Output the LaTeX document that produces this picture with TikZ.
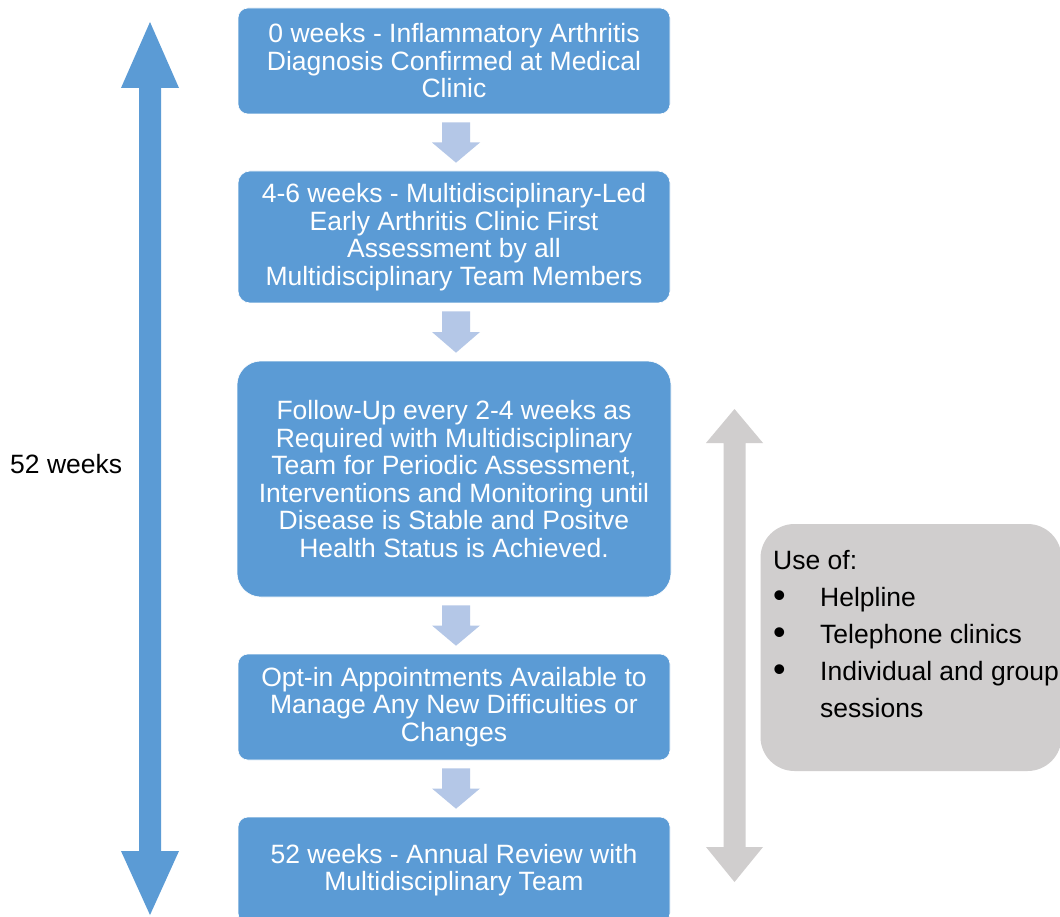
\documentclass[tikz,border=0pt]{standalone}
\usepackage{fontspec}
\usepackage{graphicx}
\setmainfont{Liberation Sans}
\usetikzlibrary{calc}
\definecolor{boxblue}{HTML}{5B9BD5}
\definecolor{lightarr}{HTML}{B4C7E7}
\definecolor{grayc}{HTML}{D0CECE}
\newcommand\mybul{\makebox[47pt][l]{\raisebox{-1pt}{\scalebox{1.35}{•}}}}
\tikzset{
  bluebox/.style={fill=boxblue, draw=white, line width=0.6pt, text=white, align=center,
    minimum width=432pt, inner sep=0pt, font=\fontsize{26.5}{27.5}\selectfont},
  sidetxt/.style={anchor=base west, inner sep=0pt, text=black, font=\fontsize{26.5}{32}\selectfont},
  graybox/.style={fill=grayc, rounded corners=34pt, inner sep=0pt},
}
\begin{document}
\begin{tikzpicture}[x=1pt,y=-1pt]
\clip (0,0) rectangle (1060,917);
\fill[white] (0,0) rectangle (1060,917);

% big blue double arrow
\coordinate (bt) at (150,22);
\coordinate (bb) at (150,915);
\fill[boxblue] (bt) -- ($(bt)+(29,66)$) -- ($(bt)+(11,66)$) -- ($(bb)+(11,-64)$) -- ($(bb)+(29,-64)$)
  -- (bb) -- ($(bb)+(-29,-64)$) -- ($(bb)+(-11,-64)$) -- ($(bt)+(-11,66)$) -- ($(bt)+(-29,66)$) -- cycle;
\node[anchor=base west, inner sep=0pt, font=\fontsize{26.5}{32}\selectfont] (lbl) at (10,473) {52 weeks};

% gray double arrow
\coordinate (gt) at (734.5,409);
\coordinate (gb) at (734.5,882);
\fill[grayc] (gt) -- ($(gt)+(28.5,34)$) -- ($(gt)+(11,34)$) -- ($(gb)+(11,-35)$) -- ($(gb)+(28.5,-35)$)
  -- (gb) -- ($(gb)+(-28.5,-35)$) -- ($(gb)+(-11,-35)$) -- ($(gt)+(-11,34)$) -- ($(gt)+(-28.5,34)$) -- cycle;

% gray side box
\node[graybox, minimum width=301pt, minimum height=247pt] (side) at (911,647.5) {};
\node[sidetxt] (s0) at (773,569) {Use of:};
\node[sidetxt] (s1) at (773,606) {\mybul Helpline};
\node[sidetxt] (s2) at (773,643) {\mybul Telephone clinics};
\node[sidetxt] (s3) at (773,680) {\mybul Individual and group};
\node[sidetxt] (s4) at (773,717) {\hspace*{47pt}sessions};

% blue boxes
\node[bluebox, minimum height=106pt, rounded corners=10pt] (b1) at (454,61)
  {0 weeks - Inflammatory Arthritis\\Diagnosis Confirmed at Medical\\Clinic};
\node[bluebox, minimum height=132pt, rounded corners=12pt] (b2) at (454,237)
  {4-6 weeks - Multidisciplinary-Led\\Early Arthritis Clinic First\\Assessment by all\\Multidisciplinary Team Members};
\node[bluebox, minimum width=434pt, minimum height=236pt, rounded corners=24pt] (b3) at (454,479)
  {Follow-Up every 2-4 weeks as\\Required with Multidisciplinary\\Team for Periodic Assessment,\\Interventions and Monitoring until\\Disease is Stable and Positve\\Health Status is Achieved.};
\node[bluebox, minimum height=106pt, rounded corners=10pt] (b4) at (454,707)
  {Opt-in Appointments Available to\\Manage Any New Difficulties or\\Changes};
\node[bluebox, minimum height=106pt, rounded corners=10pt] (b5) at (454,870)
  {52 weeks - Annual Review with\\Multidisciplinary Team};

% light block arrows between boxes
\foreach \a/\b in {b1/b2, b2/b3, b3/b4, b4/b5}{
  \fill[lightarr] let \p1=($(\a.south)+(2,8)$), \p2=($(\b.north)+(2,-8)$), \n1={(\y1+\y2)/2} in
    (\x1-14pt,\y1) -- (\x1+14pt,\y1) -- (\x1+14pt,\n1) -- (\x1+24pt,\n1) -- (\x1,\y2)
    -- (\x1-24pt,\n1) -- (\x1-14pt,\n1) -- cycle;
}
\end{tikzpicture}
\end{document}
